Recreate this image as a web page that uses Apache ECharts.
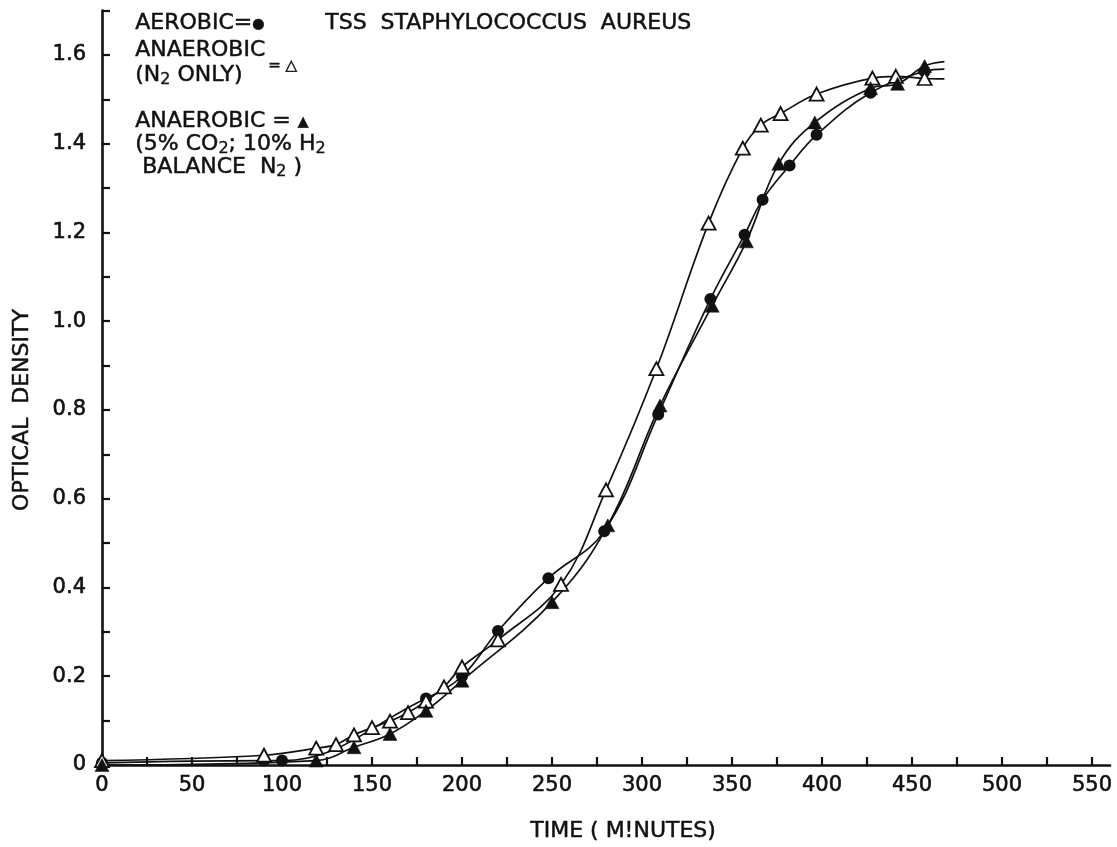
<!DOCTYPE html>
<html>
<head>
<meta charset="utf-8">
<script src="https://cdn.jsdelivr.net/npm/echarts@6/dist/echarts.min.js"></script>
<style>
  html, body { margin: 0; padding: 0; background: #fff; }
  #chart { width: 1117px; height: 847px; }
</style>
</head>
<body>
<div id="chart"></div>
<script>
// Growth curves of Staphylococcus aureus in TSS: optical density vs. time (minutes)

// Aerobic (filled circles): [time, OD]
const aerobic = [
  [0, 0.005], [90, 0.01], [100, 0.01], [180, 0.15], [200, 0.2], [220, 0.302],
  [248, 0.421], [279, 0.527], [309, 0.79], [338, 1.05], [357, 1.195],
  [367, 1.274], [382, 1.351], [397, 1.42], [427, 1.515], [457, 1.563]
];
const aerobicTail = [468, 1.568];

// Anaerobic, N2 only (open triangles)
const anaerobicN2 = [
  [0, 0.01], [90, 0.022], [119, 0.038], [130, 0.046], [140, 0.068], [150, 0.084],
  [160, 0.099], [170, 0.118], [180, 0.144], [190, 0.176], [200, 0.221],
  [220, 0.282], [255, 0.407], [280, 0.62], [308, 0.893], [337, 1.221],
  [356, 1.39], [366, 1.442], [377, 1.468], [397, 1.512], [428, 1.548],
  [441, 1.552], [457, 1.547]
];
const anaerobicN2Tail = [468, 1.546];

// Anaerobic, 5% CO2 / 10% H2 / balance N2 (filled triangles)
const anaerobicMix = [
  [0, 0.0], [119, 0.01], [140, 0.04], [160, 0.07], [180, 0.122], [200, 0.19],
  [250, 0.367], [281, 0.54], [310, 0.81], [339, 1.035], [358, 1.18],
  [376, 1.355], [396, 1.448], [427, 1.525], [442, 1.535], [457, 1.575]
];
const anaerobicMixTail = [468, 1.585];

// Axis ticks and labels
const xTicks = [0, 25, 50, 75, 100, 125, 150, 175, 200, 225, 250, 275, 300, 325, 350, 375, 400, 425, 450, 475, 500, 525, 550];
const xLabels = [0, 50, 100, 150, 200, 250, 300, 350, 400, 450, 500, 550];
const yTicks = [0, 0.1, 0.2, 0.3, 0.4, 0.5, 0.6, 0.7, 0.8, 0.9, 1.0, 1.1, 1.2, 1.3, 1.4, 1.5, 1.6, 1.7];
const yLabels = [0, 0.2, 0.4, 0.6, 0.8, 1.0, 1.2, 1.4, 1.6];

const FONT = '"DejaVu Sans", sans-serif';
const INK = '#111';

function withTail(points, tail) {
  return points.map(p => ({ value: p })).concat([{ value: tail, symbol: 'none' }]);
}

const chart = echarts.init(document.getElementById('chart'), null, { renderer: 'canvas' });

const lineBase = {
  type: 'line',
  smooth: 0.4,
  lineStyle: { color: INK, width: 1.7 },
  symbolKeepAspect: true,
  animation: false,
  z: 3
};

const labelStyle = {
  color: INK, fontFamily: FONT, fontSize: 21,
  textBorderColor: INK, textBorderWidth: 0.6
};

function txt(left, top, text, size, extra) {
  return {
    type: 'text', left: left, top: top,
    style: Object.assign({
      text: text, font: size + 'px ' + FONT, fill: INK,
      stroke: INK, lineWidth: 0.5
    }, extra || {})
  };
}

// rich-text pieces: subscripts and small legend glyphs
const rich = {
  s: { font: '16px ' + FONT, fill: INK, stroke: INK, lineWidth: 0.4, padding: [9, 0, 0, 0] },
  g: { font: '14px ' + FONT, fill: INK, padding: [2, 0, 0, 0] }
};

chart.setOption({
  backgroundColor: '#fff',
  animation: false,
  grid: { left: 102, right: 7, top: 10.6, bottom: 82, containLabel: false },
  xAxis: {
    type: 'value',
    min: 0, max: 560,
    axisLine: { show: true, lineStyle: { color: INK, width: 2.6 } },
    axisTick: { show: true, inside: true, length: 8, lineStyle: { color: INK, width: 2.2 }, customValues: xTicks },
    axisLabel: Object.assign({ customValues: xLabels, margin: 10 }, labelStyle),
    splitLine: { show: false }
  },
  yAxis: {
    type: 'value',
    min: 0, max: 1.7,
    axisLine: { show: true, lineStyle: { color: INK, width: 2.6 } },
    axisTick: { show: true, inside: true, length: 8, lineStyle: { color: INK, width: 2.2 }, customValues: yTicks },
    axisLabel: Object.assign({
      customValues: yLabels, margin: 16,
      formatter: v => (v === 0 ? '0' : v.toFixed(1))
    }, labelStyle),
    splitLine: { show: false }
  },
  series: [
    Object.assign({}, lineBase, {
      name: 'AEROBIC',
      data: withTail(aerobic, aerobicTail),
      symbol: 'circle', symbolSize: 12,
      itemStyle: { color: INK, borderColor: INK, borderWidth: 0 }
    }),
    Object.assign({}, lineBase, {
      name: 'ANAEROBIC (N2 ONLY)',
      data: withTail(anaerobicN2, anaerobicN2Tail),
      symbol: 'triangle', symbolSize: [14, 13],
      itemStyle: { color: '#fff', borderColor: INK, borderWidth: 1.8 }
    }),
    Object.assign({}, lineBase, {
      name: 'ANAEROBIC (5% CO2; 10% H2 BALANCE N2)',
      data: withTail(anaerobicMix, anaerobicMixTail),
      symbol: 'triangle', symbolSize: [14, 13],
      itemStyle: { color: INK, borderColor: INK, borderWidth: 0.5 }
    })
  ],
  graphic: [
    txt(135, 12, 'AEROBIC={g|●}', 22, { rich: rich }),
    txt(325, 12, 'TSS  STAPHYLOCOCCUS  AUREUS', 22),
    txt(135, 38, 'ANAEROBIC\n(N{s|2} ONLY)', 22, { lineHeight: 25, rich: rich }),
    txt(268, 58, '= △', 15),
    txt(135, 110, 'ANAEROBIC = {g|▲}\n(5% CO{s|2}; 10% H{s|2}\n BALANCE  N{s|2} )', 22, { lineHeight: 23, rich: rich }),
    {
      type: 'text', x: 22, y: 410,
      rotation: Math.PI / 2,
      style: { text: 'OPTICAL  DENSITY', font: '22px ' + FONT, fill: INK, stroke: INK, lineWidth: 0.5, align: 'center', verticalAlign: 'middle' }
    },
    txt(530, 820, 'TIME ( M!NUTES)', 22)
  ]
});
</script>
</body>
</html>
